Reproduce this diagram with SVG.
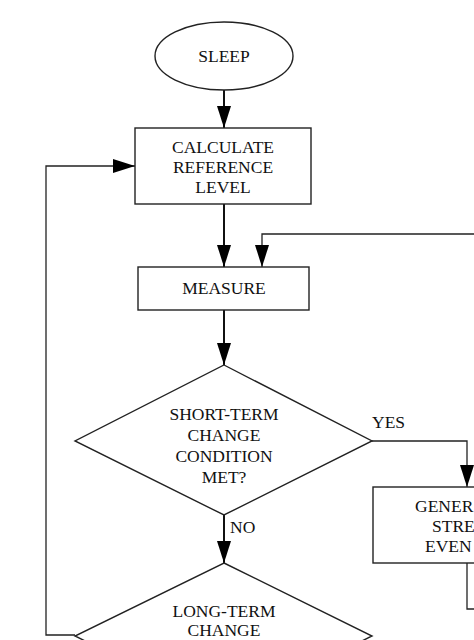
<svg xmlns="http://www.w3.org/2000/svg" width="474" height="640" viewBox="0 0 474 640">
<style>
.s{fill:#fff;stroke:#222;stroke-width:1.4}
.t{font-family:"Liberation Serif","Times New Roman",serif;font-size:17.5px;fill:#111;text-anchor:middle}
.l{font-family:"Liberation Serif","Times New Roman",serif;font-size:17.5px;fill:#111}
.c{fill:none;stroke:#111;stroke-width:2}
.f{fill:none;stroke:#222;stroke-width:1.3}
</style>
<defs>
<marker id="ah" markerUnits="userSpaceOnUse" markerWidth="22" markerHeight="14" refX="22" refY="7" orient="auto">
<path d="M0,0 L22,7 L0,14 z" fill="#000"/>
</marker>
</defs>
<rect width="474" height="640" fill="#fff"/>
<g id="connectors">
<path class="c" d="M224,90 V128" marker-end="url(#ah)"/>
<path class="c" d="M224,204 V267" marker-end="url(#ah)"/>
<path class="f" d="M474,234 H262 V267" marker-end="url(#ah)"/>
<path class="c" d="M224,310 V365" marker-end="url(#ah)"/>
<path class="f" d="M372,441 H467 V487" marker-end="url(#ah)"/>
<path class="f" d="M467,563 V609 H474"/>
<path class="c" d="M224,515 V563" marker-end="url(#ah)"/>
<path class="f" d="M75,635 H46 V166 H135" marker-end="url(#ah)"/>
<text class="l" x="372" y="428">YES</text>
<text class="l" x="230" y="533">NO</text>
</g>
<g id="sleep">
<ellipse class="s" cx="224" cy="56" rx="69" ry="34"/>
<text class="t" x="224" y="62">SLEEP</text>
</g>
<g id="calc">
<rect class="s" x="135" y="128" width="176" height="76"/>
<text class="t" x="223" y="153">CALCULATE</text>
<text class="t" x="223" y="173">REFERENCE</text>
<text class="t" x="223" y="193">LEVEL</text>
</g>
<g id="measure">
<rect class="s" x="138" y="267" width="171" height="43"/>
<text class="t" x="224" y="294">MEASURE</text>
</g>
<g id="short">
<polygon class="s" points="224,365 372,441 224,515 75,441"/>
<text class="t" x="224" y="420">SHORT-TERM</text>
<text class="t" x="224" y="441">CHANGE</text>
<text class="t" x="224" y="462">CONDITION</text>
<text class="t" x="224" y="483">MET?</text>
</g>
<g id="generate">
<rect class="s" x="373" y="487" width="188" height="76"/>
<text class="l" x="415" y="512">GENER</text>
<text class="l" x="432" y="532">STRE</text>
<text class="l" x="425" y="552">EVEN</text>
</g>
<g id="long">
<polygon class="s" points="224,563 372,636 224,709 75,636"/>
<text class="t" x="224" y="617">LONG-TERM</text>
<text class="t" x="224" y="636">CHANGE</text>
</g>
</svg>
